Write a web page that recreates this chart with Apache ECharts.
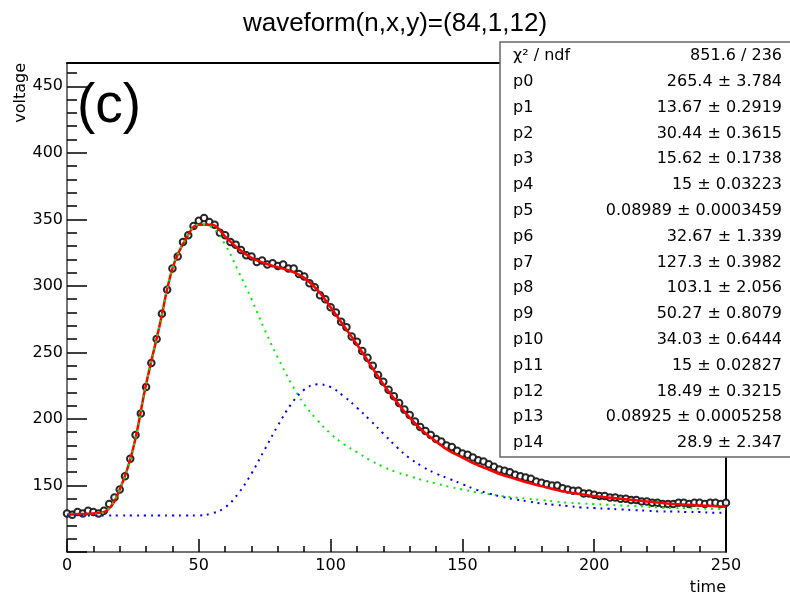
<!DOCTYPE html>
<html><head><meta charset="utf-8">
<script src="https://cdn.jsdelivr.net/npm/echarts@6/dist/echarts.min.js"></script>
<style>html,body{margin:0;padding:0;background:#fff}#c{width:790px;height:597px}</style>
</head><body><div id="c"></div>
<script>
const titleText = 'waveform(n,x,y)=(84,1,12)';
const panelLabel = '(c)';
const xName = 'time';
const yName = 'voltage';
const yTickLabels = [150, 200, 250, 300, 350, 400, 450];

// measured waveform samples (every 2 time units, starting at 0)
const dataStep = 2;
const dataVoltage = [
 129,128,130,129,131,130,129,131,136,141,147,157,170,188,204,224,242,260,279,297,
 313,322,333,338,345,349,351,348,346,340,338,333,331,327,323,322,318,319,316,317,
 315,316,313,313,309,307,302,299,293,290,284,280,273,269,262,258,251,246,240,233,
 228,222,217,212,207,203,198,194,191,188,185,183,180,179,176,174,173,171,169,168,
 166,164,162,161,160,158,157,156,155,153,152,151,150,150,148,147,146,146,144,144,
 143,142,142,141,141,140,140,139,139,138,138,137,137,136,136,136,137,137,136,137,
 137,136,137,137,136,137
];

// fit curves sampled every 5 time units
const fitTime = [0,5,10,15,20,25,30,35,40,45,50,55,60,65,70,75,80,85,90,95,100,105,110,115,120,125,130,135,140,145,150,155,160,165,170,175,180,185,190,195,200,205,210,215,220,225,230,235,240,245,250];
const fitTotal = [128,128.5,129,131,147,177,226,269,313,335,346,346,337,328,321,317,314,311,306,297,284,270,256,241,226,213,201,191,183,176,171,166,162,158,155,152,149.5,147,145,143.5,142,141,140,139,138,137,136,135.5,135,134.5,134];
const fitFirst = [127.5,127.5,128,131,147,177,226,269,313,335,346,344,331,311,290,267,246,227,211,199,189,181,175,169,164,160,157,154,151.5,149,147,145,143.5,142,141,140,139,138,137,136.5,136,135.5,135,134.5,134,133.5,133,133,132.5,132.5,132];
const fitSecond = [127.5,127.5,127.5,127.5,127.5,127.5,127.5,127.5,127.5,127.5,127.5,129,133.5,144,159,177,195,211,222,226,224,217,208.5,199,189,179,170.5,164,159,155,151,147,144,141.5,139.5,138,136.5,135.5,134.5,133.5,133,132.5,132,131.5,131,130.5,130.5,130,130,129.5,129.5];

const statLabels = ['\u03C7\u00B2 / ndf','p0','p1','p2','p3','p4','p5','p6','p7','p8','p9','p10','p11','p12','p13','p14'];
const statValues = ['851.6 / 236','265.4 \u00B1 3.784','13.67 \u00B1 0.2919','30.44 \u00B1 0.3615','15.62 \u00B1 0.1738','15 \u00B1 0.03223','0.08989 \u00B1 0.0003459','32.67 \u00B1 1.339','127.3 \u00B1 0.3982','103.1 \u00B1 2.056','50.27 \u00B1 0.8079','34.03 \u00B1 0.6444','15 \u00B1 0.02827','18.49 \u00B1 0.3215','0.08925 \u00B1 0.0005258','28.9 \u00B1 2.347'];

const FONT = 'DejaVu Sans';
const chart = echarts.init(document.getElementById('c'), null, {renderer: 'canvas'});

const statGraphics = [{
  type: 'rect', z: 100,
  shape: {x: 500, y: 42, width: 300, height: 415},
  style: {fill: '#fff', stroke: '#666', lineWidth: 1.5}
}];
statLabels.forEach((lab, i) => {
  const y = 56 + 25.8 * i;
  statGraphics.push({type: 'text', z: 101, x: 513, y: y,
    style: {text: lab, font: '16px "' + FONT + '"', fill: '#000', align: 'left', verticalAlign: 'middle'}});
  statGraphics.push({type: 'text', z: 101, x: 782, y: y,
    style: {text: statValues[i], font: '16px "' + FONT + '"', fill: '#000', align: 'right', verticalAlign: 'middle'}});
});

const option = {
  animation: false,
  backgroundColor: '#fff',
  title: {
    text: titleText, left: 'center', top: 11, padding: 0,
    textStyle: {fontFamily: 'Liberation Sans', fontSize: 26, fontWeight: 'normal', color: '#000'}
  },
  grid: {left: 67, right: 64, top: 63, bottom: 45, containLabel: false},
  xAxis: [{
    type: 'value', min: 0, max: 250, interval: 50, position: 'bottom',
    axisLine: {show: true, onZero: false, lineStyle: {color: '#444', width: 1.5}},
    axisTick: {show: true, inside: true, length: 13, lineStyle: {color: '#000', width: 1.5}},
    minorTick: {show: true, splitNumber: 5, length: 6, lineStyle: {color: '#000', width: 1.5}},
    axisLabel: {color: '#000', fontFamily: FONT, fontSize: 16, margin: 6},
    splitLine: {show: false}, minorSplitLine: {show: false},
    name: xName, nameLocation: 'end', nameGap: 0,
    nameTextStyle: {fontFamily: FONT, fontSize: 16, color: '#000', align: 'right', verticalAlign: 'top', padding: [28, 0, 0, 0]}
  }, {
    type: 'value', min: 0, max: 250, position: 'top',
    axisLine: {show: true, onZero: false, lineStyle: {color: '#000', width: 2}},
    axisTick: {show: false}, axisLabel: {show: false}, splitLine: {show: false}
  }],
  yAxis: [{
    type: 'value', min: 100, max: 467.5, interval: 50, position: 'left',
    axisLine: {show: true, onZero: false, lineStyle: {color: '#444', width: 1.5}},
    axisTick: {show: true, inside: true, length: 20, lineStyle: {color: '#000', width: 1.5}},
    axisLabel: {color: '#000', fontFamily: FONT, fontSize: 16, margin: 4,
      formatter: v => yTickLabels.indexOf(v) >= 0 ? String(v) : ''},
    splitLine: {show: false}
  }, {
    type: 'value', min: 100, max: 467.5, interval: 10, position: 'left',
    axisLine: {show: false},
    axisTick: {show: true, inside: true, length: 10, lineStyle: {color: '#000', width: 1.5}},
    axisLabel: {show: false}, splitLine: {show: false}
  }, {
    type: 'value', min: 100, max: 467.5, position: 'right',
    axisLine: {show: true, onZero: false, lineStyle: {color: '#000', width: 2}},
    axisTick: {show: false}, axisLabel: {show: false}, splitLine: {show: false}
  }],
  series: [{
    type: 'scatter', name: 'data', xAxisIndex: 0, yAxisIndex: 0, z: 2, silent: true,
    data: dataVoltage.map((v, i) => [i * dataStep, v]),
    symbol: 'emptyCircle', symbolSize: 6.5,
    itemStyle: {color: '#111', borderWidth: 2, opacity: 0.9}
  }, {
    type: 'line', name: 'fit', xAxisIndex: 0, yAxisIndex: 0, z: 3, silent: true,
    data: fitTime.map((t, i) => [t, fitTotal[i]]),
    smooth: 0.4, showSymbol: false,
    lineStyle: {color: '#ff0000', width: 2.5}
  }, {
    type: 'line', name: 'pulse1', xAxisIndex: 0, yAxisIndex: 0, z: 4, silent: true,
    data: fitTime.map((t, i) => [t, fitFirst[i]]),
    smooth: 0.4, showSymbol: false,
    lineStyle: {color: '#00ee00', width: 2, type: [2, 5]}
  }, {
    type: 'line', name: 'pulse2', xAxisIndex: 0, yAxisIndex: 0, z: 4, silent: true,
    data: fitTime.map((t, i) => [t, fitSecond[i]]),
    smooth: 0.4, showSymbol: false,
    lineStyle: {color: '#0000ff', width: 2, type: [2, 5]}
  }],
  graphic: [{
    type: 'text', x: 77, y: 107, z: 50,
    style: {text: panelLabel, font: '55px "Liberation Sans"', fill: '#000', align: 'left', verticalAlign: 'middle'}
  }, {
    type: 'text', x: 21, y: 63, rotation: Math.PI / 2, z: 50,
    style: {text: yName, font: '16px "' + FONT + '"', fill: '#000', align: 'right', verticalAlign: 'middle'}
  }].concat(statGraphics)
};
chart.setOption(option);
</script>
</body></html>
